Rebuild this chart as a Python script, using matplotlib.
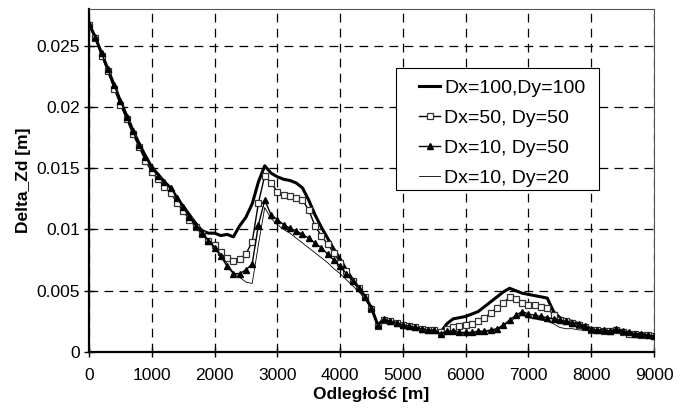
import numpy as np
import matplotlib
matplotlib.use("Agg")
import matplotlib.pyplot as plt
from matplotlib.patches import Rectangle
from matplotlib.ticker import FuncFormatter

# odległość wzdłuż profilu, co 100 m
odleglosc = np.arange(0, 9001, 100)

dx100_dy100 = [
    .0268, .0257, .0244, .0231, .0218, .0205, .0193, .0181, .0170, .0160,
    .0151, .0145, .0139, .0134, .0126, .0119, .0112, .0105, .0099, .0097,
    .0097, .0095, .0096, .0094, .0103, .0110, .0121, .0139, .0152, .0146,
    .0143, .0141, .0140, .0138, .0134, .0124, .0112, .0102, .0093, .0084,
    .0076, .0067, .0059, .0052, .0045, .0036, .0022, .0027, .0025, .0024,
    .0022, .0021, .0020, .0019, .0018, .0018, .0016, .0023, .0027, .0028,
    .0029, .0031, .0033, .0037, .0041, .0045, .0049, .0052, .0050, .0048,
    .0047, .0046, .0045, .0044, .0033, .0028, .0026, .0025, .0023, .0021,
    .0019, .0018, .0018, .0017, .0019, .0017, .0016, .0015, .0015, .0014,
    .0013]

dx50_dy50 = [
    .0267, .0256, .0242, .0229, .0215, .0202, .0190, .0178, .0167, .0156,
    .0147, .0141, .0135, .0130, .0122, .0115, .0108, .0102, .0096, .0091,
    .0087, .0082, .0077, .0074, .0076, .0080, .0090, .0122, .0144, .0138,
    .0131, .0128, .0127, .0126, .0124, .0116, .0103, .0095, .0088, .0081,
    .0073, .0066, .0058, .0052, .0045, .0035, .0021, .0026, .0025, .0024,
    .0022, .0021, .0020, .0019, .0018, .0018, .0016, .0019, .0020, .0021,
    .0022, .0023, .0025, .0028, .0032, .0036, .0040, .0045, .0043, .0040,
    .0038, .0038, .0037, .0036, .0030, .0026, .0025, .0024, .0022, .0020,
    .0018, .0018, .0017, .0017, .0018, .0016, .0015, .0015, .0014, .0014,
    .0013]

dx10_dy50 = [
    .0268, .0257, .0244, .0231, .0218, .0205, .0192, .0180, .0169, .0159,
    .0150, .0144, .0139, .0134, .0126, .0118, .0110, .0103, .0097, .0091,
    .0085, .0078, .0070, .0064, .0064, .0067, .0072, .0104, .0124, .0112,
    .0108, .0104, .0101, .0099, .0096, .0093, .0089, .0085, .0080, .0075,
    .0070, .0064, .0058, .0052, .0045, .0036, .0022, .0027, .0025, .0024,
    .0022, .0021, .0020, .0019, .0018, .0018, .0015, .0017, .0017, .0016,
    .0016, .0016, .0017, .0017, .0018, .0019, .0022, .0026, .0030, .0033,
    .0031, .0030, .0029, .0028, .0027, .0026, .0025, .0024, .0023, .0021,
    .0019, .0018, .0018, .0017, .0019, .0017, .0016, .0015, .0015, .0014,
    .0013]

dx10_dy20 = [
    .0268, .0257, .0244, .0231, .0218, .0205, .0192, .0180, .0169, .0159,
    .0150, .0144, .0139, .0134, .0126, .0118, .0110, .0103, .0097, .0092,
    .0086, .0080, .0072, .0065, .0061, .0057, .0056, .0088, .0118, .0109,
    .0104, .0100, .0097, .0093, .0089, .0085, .0081, .0077, .0073, .0068,
    .0064, .0059, .0054, .0049, .0043, .0035, .0021, .0026, .0025, .0024,
    .0022, .0021, .0020, .0019, .0018, .0017, .0014, .0016, .0016, .0015,
    .0015, .0015, .0016, .0016, .0017, .0018, .0021, .0025, .0028, .0030,
    .0028, .0027, .0026, .0025, .0023, .0020, .0019, .0019, .0018, .0018,
    .0017, .0017, .0016, .0016, .0017, .0016, .0015, .0014, .0014, .0013,
    .0013]

x_ticks = list(range(0, 9001, 1000))
y_ticks = [0, 0.005, 0.01, 0.015, 0.02, 0.025]

plt.rcParams["font.family"] = ["Liberation Sans", "DejaVu Sans"]

fig = plt.figure(figsize=(6.83, 4.08), dpi=100)
ax = fig.add_axes([0.1303, 0.1373, 0.8272, 0.8407])

ax.plot(odleglosc, dx100_dy100, color="black", lw=2.2, label="Dx=100,Dy=100", zorder=3)
ax.plot(odleglosc, dx50_dy50, color="black", lw=1.0, marker="s", ms=4,
        mfc="white", mec="#333333", mew=0.9, label="Dx=50, Dy=50", zorder=4)
ax.plot(odleglosc, dx10_dy50, color="black", lw=1.0, marker="^", ms=4,
        mfc="black", mec="black", label="Dx=10, Dy=50", zorder=5)
ax.plot(odleglosc, dx10_dy20, color="black", lw=0.6, label="Dx=10, Dy=20", zorder=6)

ax.set_xlim(0, 9000)
ax.set_ylim(0, 0.028)
ax.set_xticks(x_ticks)
ax.set_yticks(y_ticks)
ax.yaxis.set_major_formatter(FuncFormatter(lambda v, p: "%g" % v))
ax.tick_params(direction="inout", length=7, width=1, labelsize=12.5, colors="black", pad=8)
ax.tick_params(axis="y", pad=3)

ax.grid(True, color="black", linestyle=(0, (7, 5)), lw=0.9)
ax.set_axisbelow(True)

ax.spines["left"].set_linewidth(1.6)
ax.spines["bottom"].set_linewidth(1.6)
for s in ("top", "right"):
    ax.spines[s].set_linewidth(0.8)
    ax.spines[s].set_color("#555555")

ax.set_xlabel("Odległość [m]", fontsize=12.5, fontweight="bold", labelpad=3)
ax.set_ylabel("Delta_Zd [m]", fontsize=12.5, fontweight="bold", labelpad=4)

# ramka legendy rysowana osobno (szersze marginesy jak w oryginale)
ax.add_patch(Rectangle((0.5434, 0.4723), 0.3593, 0.3557, transform=ax.transAxes,
                       facecolor="white", edgecolor="black", lw=0.8, zorder=7))
leg = ax.legend(loc="upper left", bbox_to_anchor=(0.584, 0.795), fontsize=14,
                frameon=False, handlelength=1.1, handletextpad=0.2,
                labelspacing=0.64, borderpad=0, borderaxespad=0)
leg.set_zorder(8)

fig.savefig("out.png", dpi=100)
